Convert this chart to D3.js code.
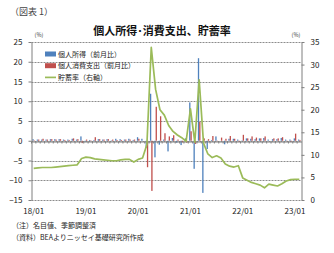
<!DOCTYPE html>
<meta charset="utf-8">
<head>
<script src="https://cdnjs.cloudflare.com/ajax/libs/d3/7.8.5/d3.min.js"></script>
<style>
body { margin: 0; background: #fff; }
text { font-family: "Noto Sans CJK JP", "Noto Sans", sans-serif; }
</style>
</head>
<body>
<svg id="chart"></svg>
<script>
// 2018/01 - 2023/02, monthly
var months = [];
for (var y = 18; y <= 23; y++) {
    for (var m = 1; m <= 12; m++) {
        if (y == 23 && m > 2) break;
        months.push(y + "/" + (m < 10 ? "0" + m : m));
    }
}
var tickLabels = ["18/01", "19/01", "20/01", "21/01", "22/01", "23/01"];

// 個人所得(前月比)
var income = [0.4, 0.3, 0.3, 0.3, 0.4, 0.4, 0.4, 0.3, 0.3, 0.5, 0.3, 1.1,
              -0.2, 0.2, 0.2, 0.4, 0.3, 0.4, 0.1, 0.5, 0.4, 0.3, 0.5, 0.2,
              0.9, 0.5, -1.8, 11.9, -4.2, -1.0, 0.3, -2.7, 0.7, -0.5, -1.1, 0.6,
              9.7, -7.1, 20.9, -13.2, -2.1, 0.2, 1.1, 0.0, -0.9, 0.5, 0.5, 0.3,
              0.1, 0.6, 0.5, 0.4, 0.6, 0.7, 0.3, 0.4, 0.4, 0.7, 0.3, 0.3,
              0.6, 0.3];
// 個人消費支出(前月比)
var spending = [0.1, 0.3, 0.5, 0.3, 0.4, 0.3, 0.4, 0.2, 0.2, 0.6, 0.4, -0.6,
                0.3, 0.1, 0.9, 0.4, 0.3, 0.4, 0.3, 0.2, 0.2, 0.3, 0.3, 0.3,
                0.5, 0.0, -6.7, -12.7, 8.6, 6.2, 1.9, 1.1, 1.4, 0.3, -0.4, -0.5,
                2.4, -0.8, 4.8, 0.6, 0.4, 1.2, -0.1, 0.8, 0.5, 1.2, 0.5, -0.2,
                1.5, 0.6, 1.1, 0.8, 0.6, 1.1, 0.0, 0.6, 0.6, 0.9, -0.1, -0.2,
                1.8, 0.2];
// 貯蓄率(右軸)
var savingRate = [7.0, 7.1, 7.2, 7.2, 7.2, 7.3, 7.4, 7.5, 7.6, 7.7, 7.8, 9.2,
                  9.5, 9.4, 9.1, 9.0, 8.9, 8.8, 8.7, 8.7, 8.9, 9.0, 9.0, 8.4,
                  9.0, 9.3, 12.3, 33.8, 24.5, 20.0, 18.8, 16.5, 15.2, 14.4, 13.8, 13.0,
                  20.2, 12.8, 26.6, 12.6, 10.2, 9.4, 9.8, 9.3, 8.0, 7.5, 7.3, 7.6,
                  4.9, 4.4, 3.9, 3.6, 3.3, 2.7, 3.5, 3.3, 3.1, 3.6, 4.2, 4.5,
                  4.6, 4.6];

var leftTicks = [-15, -10, -5, 0, 5, 10, 15, 20, 25];
var rightTicks = [0, 5, 10, 15, 20, 25, 30, 35];

var blue = "#4f81bd", red = "#c0504d", green = "#9bbb59";

var width = 334, height = 253;
var svg = d3.select("#chart").attr("width", width).attr("height", height);

var x = d3.scaleBand().domain(months).range([31.5, 301.5]);
var yL = d3.scaleLinear().domain([-15, 25]).range([200, 42]);
var yR = d3.scaleLinear().domain([0, 35]).range([200, 42]);

// gridlines
svg.append("g").selectAll("line")
    .data(leftTicks)
    .enter().append("line")
    .attr("x1", 31.5).attr("x2", 301.5)
    .attr("y1", function(d) { return Math.round(yL(d)) + 0.5; })
    .attr("y2", function(d) { return Math.round(yL(d)) + 0.5; })
    .attr("stroke", "#8c8c8c")
    .attr("stroke-dasharray", "2,1");

// bars
var bw = x.bandwidth();
var bars = svg.append("g");
bars.selectAll(".inc")
    .data(income)
    .enter().append("rect")
    .attr("x", function(d, i) { return x(months[i]) + bw * 0.2; })
    .attr("width", bw * 0.3)
    .attr("y", function(d) { return yL(Math.max(0, d)); })
    .attr("height", function(d) { return Math.abs(yL(d) - yL(0)); })
    .attr("fill", blue);
bars.selectAll(".spd")
    .data(spending)
    .enter().append("rect")
    .attr("x", function(d, i) { return x(months[i]) + bw * 0.5; })
    .attr("width", bw * 0.3)
    .attr("y", function(d) { return yL(Math.max(0, d)); })
    .attr("height", function(d) { return Math.abs(yL(d) - yL(0)); })
    .attr("fill", red);

// zero axis with category ticks
svg.append("g")
    .attr("transform", "translate(0," + (Math.round(yL(0)) + 0.5) + ")")
    .call(d3.axisBottom(x).tickValues([]).tickSizeOuter(0))
    .call(function(g) {
        g.select(".domain").attr("stroke", "#7f7f7f");
        g.selectAll(".cat").data(months).enter().append("line")
            .attr("x1", function(d) { return x(d); })
            .attr("x2", function(d) { return x(d); })
            .attr("y1", 0).attr("y2", 2)
            .attr("stroke", "#7f7f7f");
    });

// saving rate line
svg.append("path")
    .datum(savingRate)
    .attr("fill", "none")
    .attr("stroke", green)
    .attr("stroke-width", 1.7)
    .attr("stroke-linejoin", "round")
    .attr("d", d3.line()
        .x(function(d, i) { return x(months[i]) + bw / 2; })
        .y(function(d) { return yR(d); }));

// left axis
var axL = svg.append("g")
    .attr("transform", "translate(31.5,0)")
    .call(d3.axisLeft(yL).tickValues(leftTicks).tickSize(3).tickSizeOuter(0).tickPadding(6));
axL.select(".domain").attr("stroke", "#7f7f7f");
axL.selectAll(".tick line").attr("stroke", "#7f7f7f");
axL.selectAll("text").attr("font-size", "8px").attr("fill", "#222");

// right axis
var axR = svg.append("g")
    .attr("transform", "translate(301.5,0)")
    .call(d3.axisRight(yR).tickValues(rightTicks).tickSize(3).tickSizeOuter(0).tickPadding(6));
axR.select(".domain").attr("stroke", "#7f7f7f");
axR.selectAll(".tick line").attr("stroke", "#7f7f7f");
axR.selectAll("text").attr("font-size", "8px").attr("fill", "#222");

// bottom month labels
svg.append("g").selectAll("text")
    .data(tickLabels)
    .enter().append("text")
    .attr("x", function(d) { return x(d) + bw / 2; })
    .attr("y", 214)
    .attr("text-anchor", "middle")
    .attr("font-size", "8px")
    .attr("fill", "#222")
    .text(function(d) { return d; });

// unit labels
svg.append("text").attr("x", 39).attr("y", 37).attr("text-anchor", "middle")
    .attr("font-size", "5.5px").attr("fill", "#333").text("(%)");
svg.append("text").attr("x", 296).attr("y", 37).attr("text-anchor", "middle")
    .attr("font-size", "5.5px").attr("fill", "#333").text("(%)");

// title
svg.append("text").attr("x", 10).attr("y", 15)
    .attr("font-size", "9px").attr("fill", "#444").text("（図表 1）");
svg.append("text").attr("x", 162).attr("y", 35).attr("text-anchor", "middle")
    .attr("font-size", "11px").attr("font-weight", "bold").attr("fill", "#111")
    .text("個人所得･消費支出、貯蓄率");

// legend
var legend = [
    {label: "個人所得（前月比）", color: blue, type: "bar"},
    {label: "個人消費支出（前月比）", color: red, type: "bar"},
    {label: "貯蓄率（右軸）", color: green, type: "line"}
];
var lg = svg.append("g").selectAll("g")
    .data(legend)
    .enter().append("g")
    .attr("transform", function(d, i) { return "translate(45," + (54 + i * 11.7) + ")"; });
lg.filter(function(d) { return d.type == "bar"; }).append("rect")
    .attr("x", 0).attr("y", -2.5).attr("width", 11).attr("height", 5)
    .attr("fill", function(d) { return d.color; });
lg.filter(function(d) { return d.type == "line"; }).append("line")
    .attr("x1", 0).attr("x2", 11).attr("y1", 0).attr("y2", 0)
    .attr("stroke", function(d) { return d.color; }).attr("stroke-width", 1.7);
lg.append("text").attr("x", 13).attr("y", 2.5)
    .attr("font-size", "7px").attr("fill", "#222")
    .text(function(d) { return d.label; });

// notes
svg.append("text").attr("x", 12).attr("y", 228)
    .attr("font-size", "7px").attr("fill", "#222").text("（注）名目値、季節調整済");
svg.append("text").attr("x", 12).attr("y", 240)
    .attr("font-size", "7px").attr("fill", "#222").text("（資料）BEAよりニッセイ基礎研究所作成");
</script>
</body>
